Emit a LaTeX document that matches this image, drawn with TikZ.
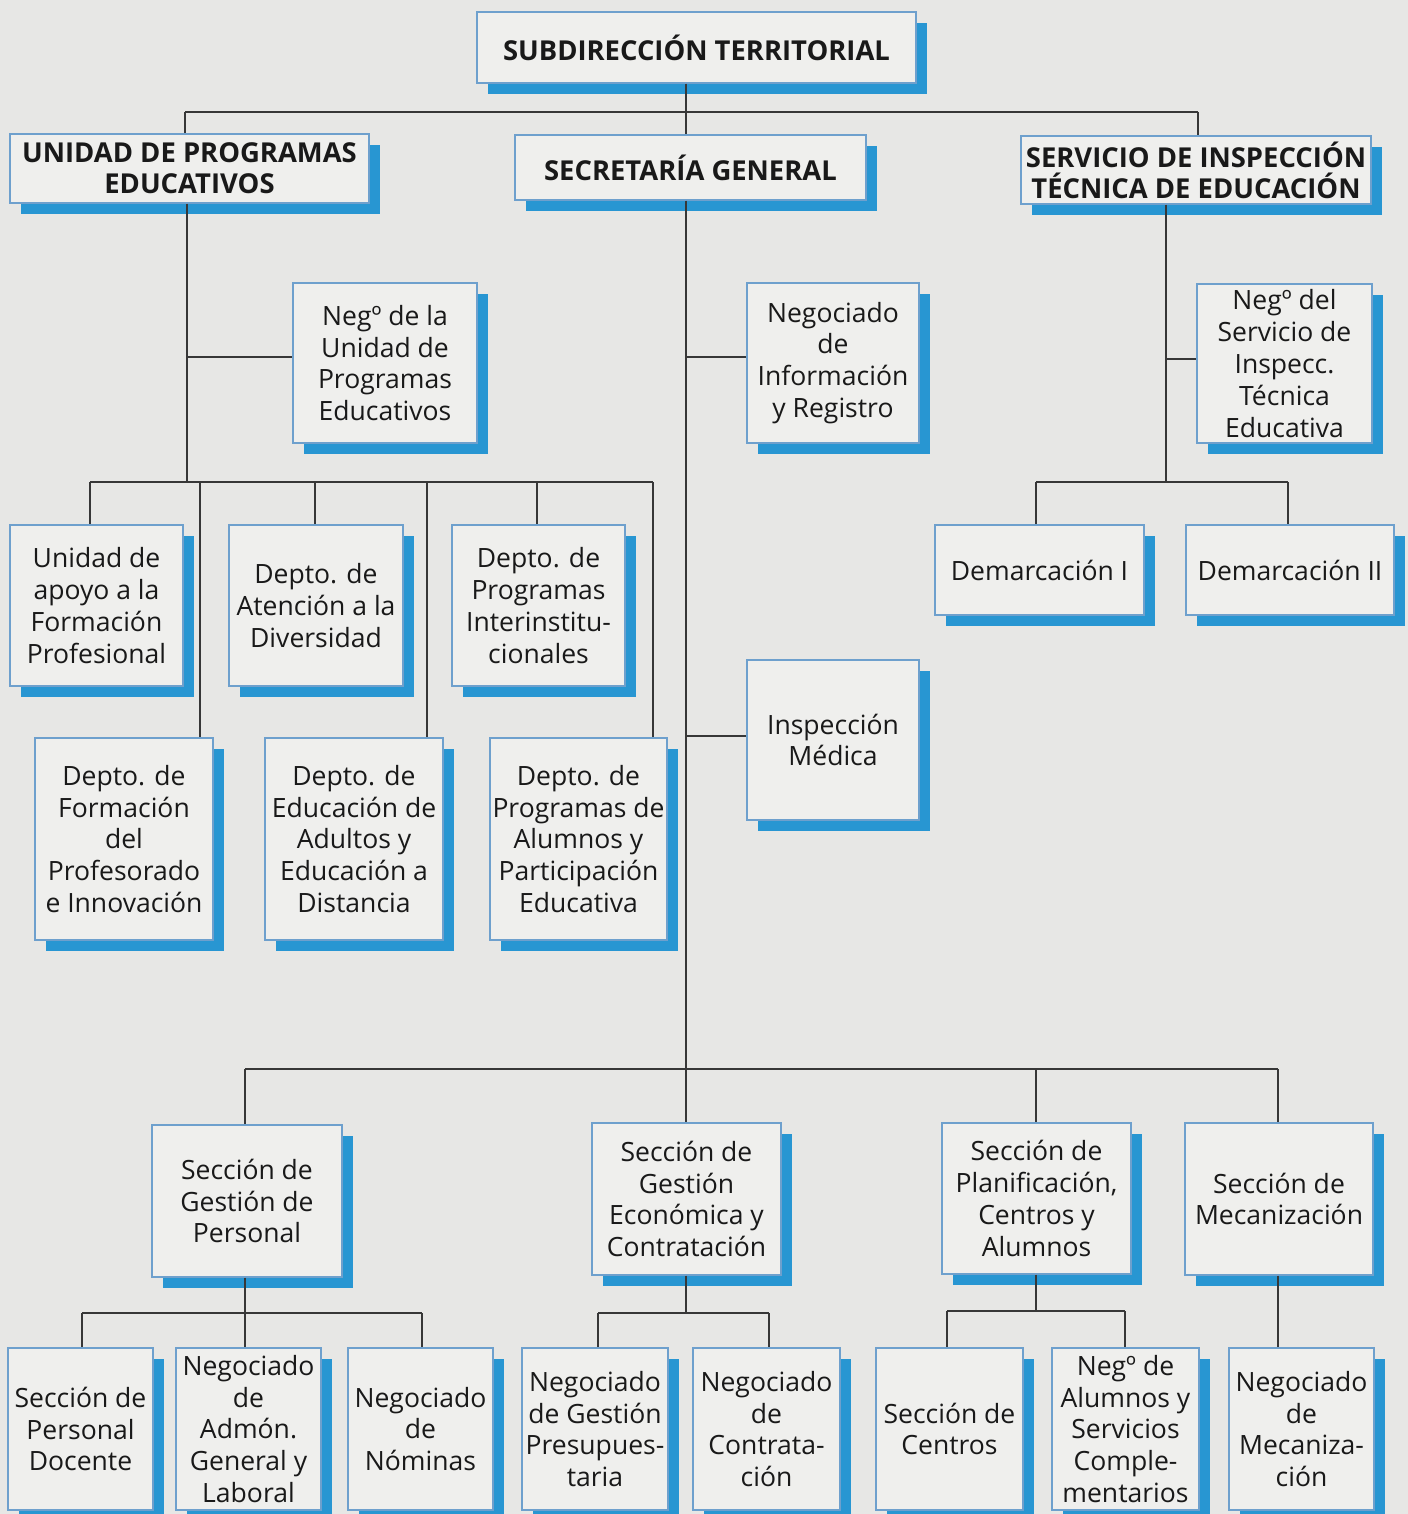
\documentclass[tikz,border=0pt]{standalone}
\usepackage{fontspec}
\setmainfont{Open Sans}
\usetikzlibrary{shadows}
\definecolor{bgcol}{RGB}{231,231,229}
\definecolor{boxfill}{RGB}{239,239,237}
\definecolor{boxline}{RGB}{110,160,205}
\definecolor{shadowblue}{RGB}{40,150,210}
\definecolor{linecol}{RGB}{55,55,55}
\definecolor{textcol}{RGB}{25,25,25}
\newcommand{\orgbox}[7]{\node[#1, minimum width={(#5-#3)*0.02cm}, minimum height={(#6-#4)*0.02cm}] (#2) at ({(#3+#5)/2},{(#4+#6)/2}) {#7};}
\tikzset{
  orgbase/.style={draw=boxline, line width=0.6pt, fill=boxfill, inner sep=0pt, align=center, text=textcol,
    drop shadow={shadow xshift=6pt, shadow yshift=-6pt, fill=shadowblue, opacity=1}},
  unitbox/.style={orgbase, font=\fontsize{15.1}{18.1}\selectfont},
  headbox/.style={orgbase, font=\bfseries\fontsize{15.6}{17.6}\selectfont},
  conn/.style={draw=linecol, line width=0.75pt}
}
\begin{document}
\begin{tikzpicture}[x=0.02cm, y=-0.02cm]
\useasboundingbox (0,0) rectangle (1408,1514);
\clip (0,0) rectangle (1408,1514);
\fill[bgcol] (0,0) rectangle (1408,1514);

% header boxes
\orgbox{headbox}{st}{477}{12}{916}{83}{SUBDIRECCIÓN TERRITORIAL}
\orgbox{headbox}{upe}{10}{134}{369}{203}{UNIDAD DE PROGRAMAS\\EDUCATIVOS}
\orgbox{headbox}{sg}{515}{135}{866}{200}{SECRETARÍA GENERAL}
\orgbox{headbox}{site}{1021}{136}{1371}{204}{SERVICIO DE INSPECCIÓN\\TÉCNICA DE EDUCACIÓN}

% UPE branch
\orgbox{unitbox}{negupe}{293}{283}{477}{443}{Negº de la\\Unidad de\\Programas\\Educativos}
\orgbox{unitbox}{apoyo}{10}{525}{183}{686}{Unidad de\\apoyo a la\\Formación\\Profesional}
\orgbox{unitbox}{aten}{229}{525}{403}{686}{Depto. de\\Atención a la\\Diversidad}
\orgbox{unitbox}{inter}{452}{525}{625}{686}{Depto. de\\Programas\\Interinstitu-\\cionales}
\orgbox{unitbox}{form}{35}{738}{213}{940}{Depto. de\\Formación\\del\\Profesorado\\e Innovación}
\orgbox{unitbox}{adul}{265}{738}{443}{940}{Depto. de\\Educación de\\Adultos y\\Educación a\\Distancia}
\orgbox{unitbox}{alum}{490}{738}{667}{940}{Depto. de\\Programas de\\Alumnos y\\Participación\\Educativa}

% SG branch
\orgbox{unitbox}{info}{747}{283}{919}{443}{Negociado\\de\\Información\\y Registro}
\orgbox{unitbox}{medica}{747}{660}{919}{820}{Inspección\\Médica}
\orgbox{unitbox}{sgp}{152}{1125}{342}{1277}{Sección de\\Gestión de\\Personal}
\orgbox{unitbox}{sge}{592}{1123}{781}{1275}{Sección de\\Gestión\\Económica y\\Contratación}
\orgbox{unitbox}{plan}{942}{1123}{1131}{1274}{Sección de\\Planificación,\\Centros y\\Alumnos}
\orgbox{unitbox}{mec}{1185}{1123}{1373}{1275}{Sección de\\Mecanización}
\orgbox{unitbox}{docente}{8}{1348}{153}{1510}{Sección de\\Personal\\Docente}
\orgbox{unitbox}{admon}{176}{1348}{321}{1510}{Negociado\\de\\Admón.\\General y\\Laboral}
\orgbox{unitbox}{nominas}{348}{1348}{493}{1510}{Negociado\\de\\Nóminas}
\orgbox{unitbox}{presup}{522}{1348}{668}{1510}{Negociado\\de Gestión\\Presupues-\\taria}
\orgbox{unitbox}{contrat}{693}{1348}{840}{1510}{Negociado\\de\\Contrata-\\ción}
\orgbox{unitbox}{centros}{876}{1348}{1023}{1510}{Sección de\\Centros}
\orgbox{unitbox}{negalum}{1052}{1348}{1199}{1510}{Negº de\\Alumnos y\\Servicios\\Comple-\\mentarios}
\orgbox{unitbox}{negmec}{1229}{1348}{1374}{1510}{Negociado\\de\\Mecaniza-\\ción}

% SITE branch
\orgbox{unitbox}{negsite}{1197}{284}{1372}{443}{Negº del\\Servicio de\\Inspecc.\\Técnica\\Educativa}
\orgbox{unitbox}{dem1}{935}{525}{1144}{615}{Demarcación I}
\orgbox{unitbox}{dem2}{1186}{525}{1394}{615}{Demarcación II}

% ---- connectors ----
% top bus
\coordinate (tA) at (185,112);
\coordinate (tM) at (686,112);
\coordinate (tB) at (1198,112);
\draw[conn] (tM |- st.south) -- (tM);
\draw[conn] (tA) -- (tB);
\draw[conn] (tA) -- (tA |- upe.north);
\draw[conn] (tM) -- (tM |- sg.north);
\draw[conn] (tB) -- (tB |- site.north);

% UPE
\coordinate (uT) at (187,482);
\coordinate (uN) at (187,357);
\draw[conn] (uT |- upe.south) -- (uT);
\draw[conn] (uN) -- (uN -| negupe.west);
\coordinate (u1) at (90,482);
\coordinate (u2) at (200,482);
\coordinate (u3) at (315,482);
\coordinate (u4) at (427,482);
\coordinate (u5) at (537,482);
\coordinate (u6) at (653,482);
\draw[conn] (u1) -- (u6);
\draw[conn] (u1) -- (u1 |- apoyo.north);
\draw[conn] (u2) -- (u2 |- form.north);
\draw[conn] (u3) -- (u3 |- aten.north);
\draw[conn] (u4) -- (u4 |- adul.north);
\draw[conn] (u5) -- (u5 |- inter.north);
\draw[conn] (u6) -- (u6 |- alum.north);

% SG
\coordinate (sT) at (686,1069);
\coordinate (sI) at (686,357);
\coordinate (sM) at (686,736);
\draw[conn] (sT |- sg.south) -- (sT |- sge.north);
\draw[conn] (sI) -- (sI -| info.west);
\draw[conn] (sM) -- (sM -| medica.west);
\coordinate (s1) at (245,1069);
\coordinate (s3) at (1036,1069);
\coordinate (s4) at (1278,1069);
\draw[conn] (s1) -- (s4);
\draw[conn] (s1) -- (s1 |- sgp.north);
\draw[conn] (s3) -- (s3 |- plan.north);
\draw[conn] (s4) -- (s4 |- mec.north);

% SITE
\coordinate (iT) at (1166,482);
\coordinate (iN) at (1166,359);
\draw[conn] (iT |- site.south) -- (iT);
\draw[conn] (iN) -- (iN -| negsite.west);
\coordinate (i1) at (1036,482);
\coordinate (i2) at (1288,482);
\draw[conn] (i1) -- (i2);
\draw[conn] (i1) -- (i1 |- dem1.north);
\draw[conn] (i2) -- (i2 |- dem2.north);

% Seccion de Gestion de Personal
\coordinate (p0) at (245,1313);
\coordinate (p1) at (82,1313);
\coordinate (p3) at (422,1313);
\draw[conn] (p0 |- sgp.south) -- (p0 |- admon.north);
\draw[conn] (p1) -- (p3);
\draw[conn] (p1) -- (p1 |- docente.north);
\draw[conn] (p3) -- (p3 |- nominas.north);

% Seccion de Gestion Economica
\coordinate (g0) at (686,1313);
\coordinate (g1) at (598,1313);
\coordinate (g2) at (769,1313);
\draw[conn] (g0 |- sge.south) -- (g0);
\draw[conn] (g1) -- (g2);
\draw[conn] (g1) -- (g1 |- presup.north);
\draw[conn] (g2) -- (g2 |- contrat.north);

% Seccion de Planificacion
\coordinate (c0) at (1036,1311);
\coordinate (c1) at (947,1311);
\coordinate (c2) at (1125,1311);
\draw[conn] (c0 |- plan.south) -- (c0);
\draw[conn] (c1) -- (c2);
\draw[conn] (c1) -- (c1 |- centros.north);
\draw[conn] (c2) -- (c2 |- negalum.north);

% Seccion de Mecanizacion
\draw[conn] (s4 |- mec.south) -- (s4 |- negmec.north);
\end{tikzpicture}
\end{document}
